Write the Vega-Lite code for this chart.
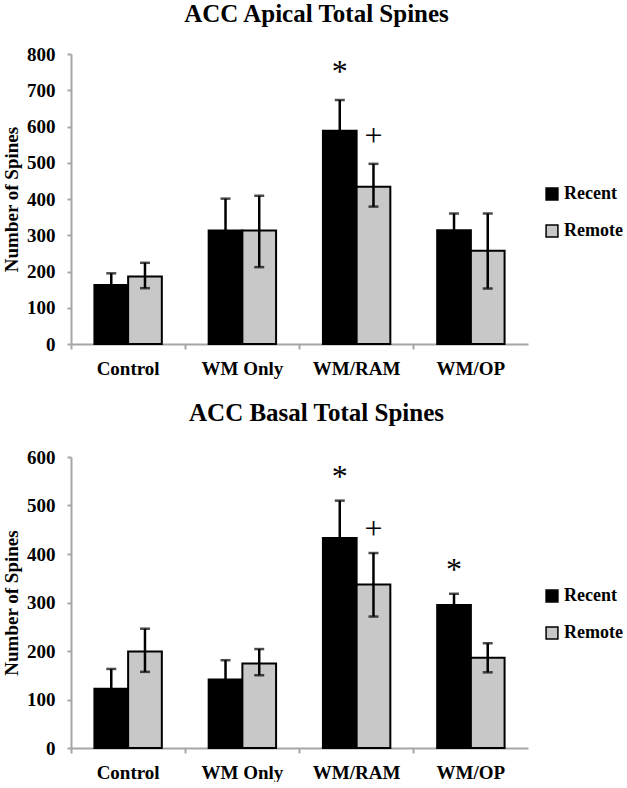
{
  "$schema": "https://vega.github.io/schema/vega-lite/v6.json",
  "padding": {"left": 2, "top": 2, "right": 0, "bottom": 0},
  "background": "white",
  "config": {
    "font": "Liberation Serif",
    "view": {"stroke": null},
    "title": {"font": "Liberation Serif", "fontSize": 25, "fontWeight": "bold", "color": "#000"},
    "axis": {"labelFont": "Liberation Serif", "labelFontSize": 19, "labelFontWeight": "bold", "labelColor": "#000", "titleFont": "Liberation Serif", "titleFontSize": 19, "titleFontWeight": "bold", "titleColor": "#000", "domainColor": "#a6a6a6", "domainWidth": 2, "tickColor": "#a6a6a6", "tickWidth": 2, "grid": false},
    "legend": {"labelFont": "Liberation Serif", "labelFontSize": 18, "labelFontWeight": "bold", "labelColor": "#000", "symbolType": "square", "symbolSize": 140, "symbolStrokeColor": "#000", "symbolStrokeWidth": 1.5, "rowPadding": 19, "padding": 0, "labelOffset": 3}
  },
  "datasets": {
    "apical": [
      {"group": "Control", "series": "Recent", "mean": 163, "lo": 131, "hi": 195, "sig": ""},
      {"group": "Control", "series": "Remote", "mean": 186, "lo": 154, "hi": 224, "sig": ""},
      {"group": "WM Only", "series": "Recent", "mean": 313, "lo": 225, "hi": 401, "sig": ""},
      {"group": "WM Only", "series": "Remote", "mean": 313, "lo": 212, "hi": 409, "sig": ""},
      {"group": "WM/RAM", "series": "Recent", "mean": 588, "lo": 503, "hi": 673, "sig": "*"},
      {"group": "WM/RAM", "series": "Remote", "mean": 434, "lo": 379, "hi": 497, "sig": "+"},
      {"group": "WM/OP", "series": "Recent", "mean": 314, "lo": 268, "hi": 360, "sig": ""},
      {"group": "WM/OP", "series": "Remote", "mean": 257, "lo": 153, "hi": 360, "sig": ""}
    ],
    "basal": [
      {"group": "Control", "series": "Recent", "mean": 122, "lo": 81, "hi": 163, "sig": ""},
      {"group": "Control", "series": "Remote", "mean": 199, "lo": 157, "hi": 246, "sig": ""},
      {"group": "WM Only", "series": "Recent", "mean": 141, "lo": 101, "hi": 181, "sig": ""},
      {"group": "WM Only", "series": "Remote", "mean": 174, "lo": 150, "hi": 204, "sig": ""},
      {"group": "WM/RAM", "series": "Recent", "mean": 433, "lo": 356, "hi": 510, "sig": "*"},
      {"group": "WM/RAM", "series": "Remote", "mean": 337, "lo": 271, "hi": 402, "sig": "+"},
      {"group": "WM/OP", "series": "Recent", "mean": 295, "lo": 272, "hi": 318, "sig": "*"},
      {"group": "WM/OP", "series": "Remote", "mean": 186, "lo": 156, "hi": 216, "sig": ""}
    ]
  },
  "vconcat": [
    {
      "title": {"text": "ACC Apical Total Spines", "anchor": "middle", "offset": 18, "dx": 17},
      "width": 457,
      "height": 290,
      "data": {"name": "apical"},
      "encoding": {
        "x": {"field": "group", "type": "nominal", "sort": ["Control", "WM Only", "WM/RAM", "WM/OP"], "scale": {"paddingInner": 0.41, "paddingOuter": 0.205}, "axis": {"title": null, "labelAngle": 0, "labelPadding": 10, "tickSize": 5, "bandPosition": -0.347}},
        "xOffset": {"field": "series", "type": "nominal", "scale": {"domain": ["Recent", "Remote"]}}
      },
      "layer": [
        {
          "mark": {"type": "bar", "stroke": "#000", "strokeWidth": 2},
          "encoding": {
            "y": {"field": "mean", "type": "quantitative", "scale": {"domain": [0, 800]}, "axis": {"title": "Number of Spines", "values": [0, 100, 200, 300, 400, 500, 600, 700, 800], "tickSize": 4, "labelPadding": 12, "titlePadding": 5}},
            "color": {"field": "series", "type": "nominal", "scale": {"domain": ["Recent", "Remote"], "range": ["#000000", "#c8c8c8"]}, "legend": {"title": null, "orient": "none", "legendX": 472, "legendY": 131}}
          }
        },
        {
          "mark": {"type": "rule", "color": "#000", "strokeWidth": 2.5},
          "encoding": {"y": {"field": "lo", "type": "quantitative", "axis": {"title": "Number of Spines", "values": [0, 100, 200, 300, 400, 500, 600, 700, 800], "tickSize": 4, "labelPadding": 12, "titlePadding": 5}}, "y2": {"field": "hi"}}
        },
        {
          "mark": {"type": "tick", "color": "#000", "thickness": 2.5, "size": 10},
          "encoding": {"y": {"field": "hi", "type": "quantitative", "axis": {"title": "Number of Spines", "values": [0, 100, 200, 300, 400, 500, 600, 700, 800], "tickSize": 4, "labelPadding": 12, "titlePadding": 5}}}
        },
        {
          "mark": {"type": "tick", "color": "#000", "thickness": 2.5, "size": 10},
          "encoding": {"y": {"field": "lo", "type": "quantitative", "axis": {"title": "Number of Spines", "values": [0, 100, 200, 300, 400, 500, 600, 700, 800], "tickSize": 4, "labelPadding": 12, "titlePadding": 5}}}
        },
        {
          "mark": {"type": "text", "font": "Liberation Serif", "fontSize": 32, "fontWeight": "normal", "baseline": "middle", "dy": -28, "color": "#000"},
          "encoding": {"y": {"field": "hi", "type": "quantitative", "axis": {"title": "Number of Spines", "values": [0, 100, 200, 300, 400, 500, 600, 700, 800], "tickSize": 4, "labelPadding": 12, "titlePadding": 5}}, "text": {"field": "sig"}}
        }
      ]
    },
    {
      "title": {"text": "ACC Basal Total Spines", "anchor": "middle", "offset": 22, "dx": 17},
      "width": 457,
      "height": 291,
      "data": {"name": "basal"},
      "encoding": {
        "x": {"field": "group", "type": "nominal", "sort": ["Control", "WM Only", "WM/RAM", "WM/OP"], "scale": {"paddingInner": 0.41, "paddingOuter": 0.205}, "axis": {"title": null, "labelAngle": 0, "labelPadding": 10, "tickSize": 5, "bandPosition": -0.347}},
        "xOffset": {"field": "series", "type": "nominal", "scale": {"domain": ["Recent", "Remote"]}}
      },
      "layer": [
        {
          "mark": {"type": "bar", "stroke": "#000", "strokeWidth": 2},
          "encoding": {
            "y": {"field": "mean", "type": "quantitative", "scale": {"domain": [0, 600]}, "axis": {"title": "Number of Spines", "values": [0, 100, 200, 300, 400, 500, 600], "tickSize": 4, "labelPadding": 12, "titlePadding": 5}},
            "color": {"field": "series", "type": "nominal", "scale": {"domain": ["Recent", "Remote"], "range": ["#000000", "#c8c8c8"]}, "legend": {"title": null, "orient": "none", "legendX": 472, "legendY": 130}}
          }
        },
        {
          "mark": {"type": "rule", "color": "#000", "strokeWidth": 2.5},
          "encoding": {"y": {"field": "lo", "type": "quantitative", "axis": {"title": "Number of Spines", "values": [0, 100, 200, 300, 400, 500, 600], "tickSize": 4, "labelPadding": 12, "titlePadding": 5}}, "y2": {"field": "hi"}}
        },
        {
          "mark": {"type": "tick", "color": "#000", "thickness": 2.5, "size": 10},
          "encoding": {"y": {"field": "hi", "type": "quantitative", "axis": {"title": "Number of Spines", "values": [0, 100, 200, 300, 400, 500, 600], "tickSize": 4, "labelPadding": 12, "titlePadding": 5}}}
        },
        {
          "mark": {"type": "tick", "color": "#000", "thickness": 2.5, "size": 10},
          "encoding": {"y": {"field": "lo", "type": "quantitative", "axis": {"title": "Number of Spines", "values": [0, 100, 200, 300, 400, 500, 600], "tickSize": 4, "labelPadding": 12, "titlePadding": 5}}}
        },
        {
          "mark": {"type": "text", "font": "Liberation Serif", "fontSize": 32, "fontWeight": "normal", "baseline": "middle", "dy": -24, "color": "#000"},
          "encoding": {"y": {"field": "hi", "type": "quantitative", "axis": {"title": "Number of Spines", "values": [0, 100, 200, 300, 400, 500, 600], "tickSize": 4, "labelPadding": 12, "titlePadding": 5}}, "text": {"field": "sig"}}
        }
      ]
    }
  ],
  "spacing": 23,
  "resolve": {"scale": {"color": "independent"}, "legend": {"color": "independent"}}
}
